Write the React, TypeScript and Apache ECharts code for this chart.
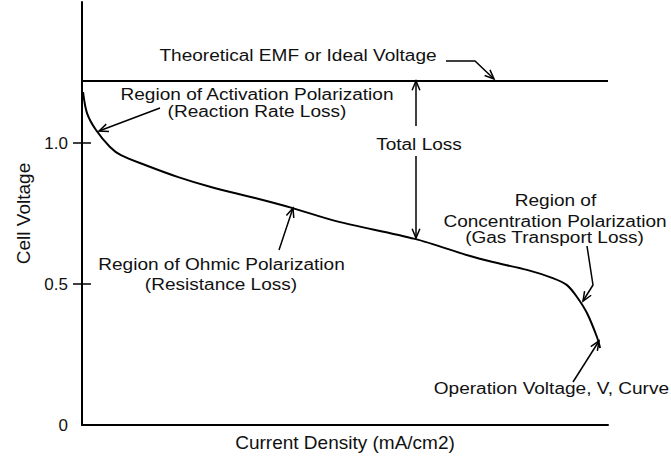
import React, { useEffect, useRef } from "react";
import * as echarts from "echarts";

// ---- data ----
const currentDensity = [0.2, 0.95, 2.66, 5.32, 7.4, 12.0, 18.3, 24.5, 32.9, 39.9, 48.5, 63.3, 73.8, 78.1, 84.6, 89.5, 92.2, 94.1, 96.0, 97.9, 98.5];
const cellVoltage = [1.18, 1.106, 1.046, 0.986, 0.957, 0.922, 0.879, 0.844, 0.805, 0.77, 0.722, 0.66, 0.599, 0.578, 0.55, 0.521, 0.496, 0.454, 0.397, 0.312, 0.273];
const emfRange = [0, 100];
const idealVoltage = 1.22;
const yTickValues = [0.5, 1.0];
const yLabelValues = [0, 0.5, 1.0];

const FONT = "'Liberation Sans', Arial, Helvetica, sans-serif";
const INK = "#111";

function label(text: string, x: number, y: number, align: string = "center") {
  return {
    type: "text",
    x,
    y,
    scaleX: 1.19,
    silent: true,
    style: { text, fontSize: 16, fontFamily: FONT, fill: INK, align, verticalAlign: "middle" },
  };
}

function head(tx: number, ty: number, fx: number, fy: number) {
  const ang = Math.atan2(ty - fy, tx - fx);
  const len = 10;
  const spread = 0.4;
  const p1 = [tx - len * Math.cos(ang - spread), ty - len * Math.sin(ang - spread)];
  const p2 = [tx - len * Math.cos(ang + spread), ty - len * Math.sin(ang + spread)];
  return {
    type: "polyline",
    silent: true,
    shape: { points: [p1, [tx, ty], p2] },
    style: { stroke: "#000", lineWidth: 1.5, fill: null },
  };
}

function poly(points: number[][]) {
  return {
    type: "polyline",
    silent: true,
    shape: { points },
    style: { stroke: "#000", lineWidth: 1.5, fill: null },
  };
}

export default function App() {
  const ref = useRef<HTMLDivElement>(null);
  useEffect(() => {
    document.body.style.margin = "0";
    const chart = echarts.init(ref.current!, null, { renderer: "svg" });
    const curve = currentDensity.map((x, i) => [x, cellVoltage[i]]);
    const emf = emfRange.map((x) => [x, idealVoltage]);

    const graphic = [
      label("Theoretical EMF or Ideal Voltage", 298, 56),
      poly([[446, 61], [475, 61], [494, 79]]),
      head(494, 79, 475, 61),

      label("Region of Activation Polarization", 257, 94.5),
      label("(Reaction Rate Loss)", 257, 111.5),
      poly([[160, 108], [99, 131]]),
      head(99, 131, 160, 108),

      label("Total Loss", 419, 144.4),
      poly([[416, 81], [416, 126]]),
      head(416, 81, 416, 126),
      poly([[416, 156], [416, 238]]),
      head(416, 238, 416, 156),

      label("Region of Ohmic Polarization", 221.5, 264.4),
      label("(Resistance Loss)", 221, 284.5),
      poly([[279, 250], [293, 208]]),
      head(293, 208, 279, 250),

      label("Region of", 555.5, 201),
      label("Concentration Polarization", 555, 221.5),
      label("(Gas Transport Loss)", 554.5, 237.7),
      poly([[587, 246], [593, 285], [583, 301]]),
      head(583, 301, 593, 285),

      label("Operation Voltage, V, Curve", 669, 389, "right"),
      poly([[573, 382], [599, 341]]),
      head(599, 341, 573, 382),
    ];

    chart.setOption({
      animation: false,
      backgroundColor: "#fff",
      grid: { left: 82, right: 63, top: 2, bottom: 36 },
      xAxis: {
        type: "value",
        min: 0,
        max: 100,
        name: "Current Density (mA/cm2)",
        nameLocation: "middle",
        nameGap: 8,
        nameTextStyle: { fontSize: 19, color: INK, fontFamily: FONT },
        axisLine: { show: true, lineStyle: { color: "#000", width: 2 } },
        axisTick: { show: false },
        axisLabel: { show: false },
        splitLine: { show: false },
      },
      yAxis: [
        {
          type: "value",
          min: 0,
          max: 1.5,
          interval: 0.5,
          name: "Cell Voltage",
          nameLocation: "middle",
          nameGap: 47,
          nameRotate: 90,
          nameTextStyle: { fontSize: 19, color: INK, fontFamily: FONT },
          axisLine: { show: true, lineStyle: { color: "#000", width: 2 } },
          axisTick: { show: true, length: 9, customValues: yTickValues, lineStyle: { color: "#000", width: 1.5 } },
          axisLabel: {
            show: true,
            customValues: yLabelValues,
            margin: 14,
            fontSize: 17,
            color: INK,
            fontFamily: FONT,
            formatter: (v: number) => (v === 0 ? "0" : v.toFixed(1)),
          },
          splitLine: { show: false },
        },
        {
          type: "value",
          min: 0,
          max: 1.5,
          interval: 0.5,
          position: "left",
          axisLine: { show: false },
          axisTick: { show: true, inside: true, length: 9, customValues: yTickValues, lineStyle: { color: "#000", width: 1.5 } },
          axisLabel: { show: false },
          splitLine: { show: false },
        },
      ],
      series: [
        {
          name: "Operation Voltage",
          type: "line",
          data: curve,
          showSymbol: false,
          smooth: 0.3,
          lineStyle: { color: "#000", width: 2 },
          z: 3,
        },
        {
          name: "Theoretical EMF",
          type: "line",
          data: emf,
          showSymbol: false,
          lineStyle: { color: "#000", width: 2 },
          z: 3,
        },
      ],
      graphic,
    });
    return () => chart.dispose();
  }, []);
  return <div ref={ref} style={{ position: "fixed", left: 0, top: 0, width: 671, height: 461 }} />;
}
